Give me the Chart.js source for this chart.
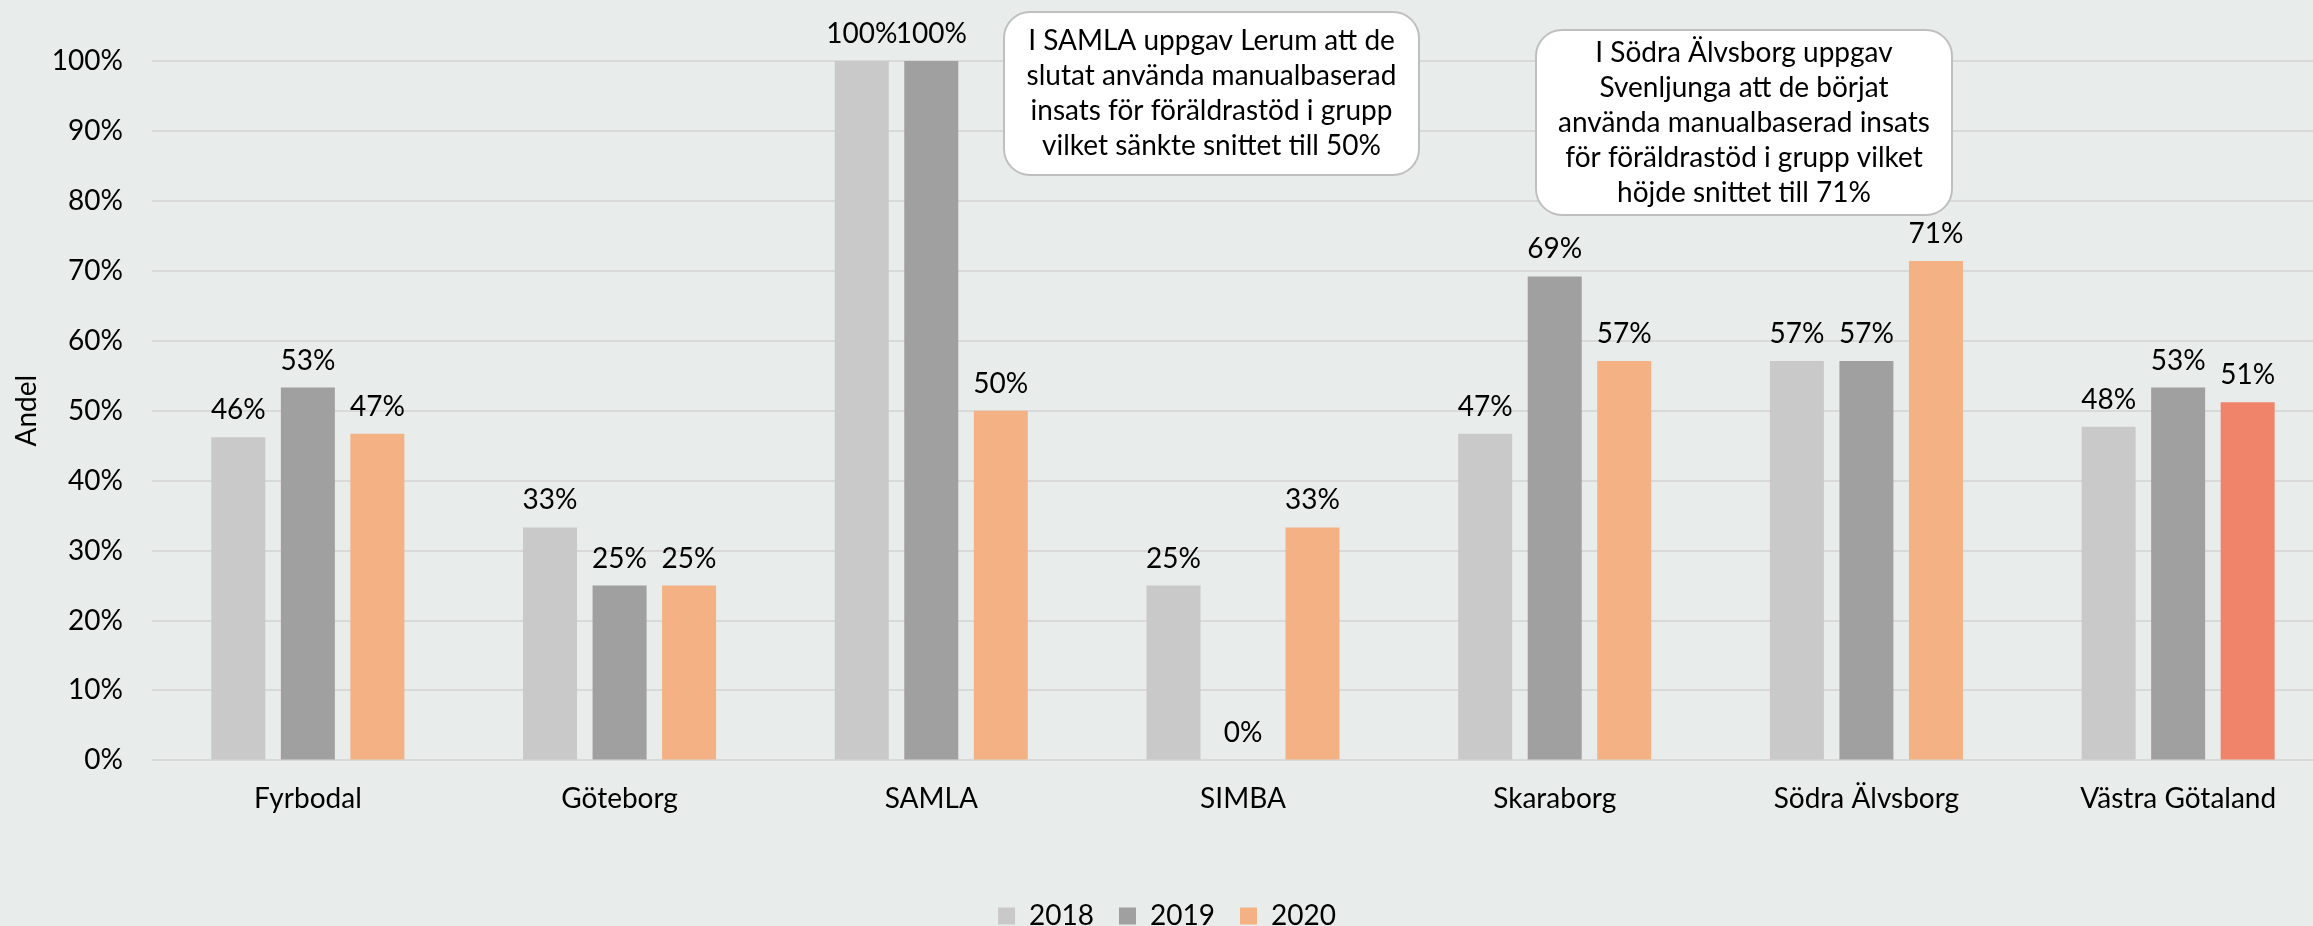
<!DOCTYPE html>
<html>
<head>
<meta charset="utf-8">
<script src="https://cdn.jsdelivr.net/npm/chart.js@4.4.1/dist/chart.umd.min.js"></script>
<style>
  html, body { margin: 0; padding: 0; background: #E8EDEB; overflow: hidden; }
  #wrap { width: 2334px; height: 926px; position: relative; }
</style>
</head>
<body>
<div id="wrap"><canvas id="c"></canvas></div>
<script>
const categories = ['Fyrbodal', 'Göteborg', 'SAMLA', 'SIMBA', 'Skaraborg', 'Södra Älvsborg', 'Västra Götaland'];
const seriesNames = ['2018', '2019', '2020'];
const values2018 = [46.2, 33.3, 100, 25.0, 46.7, 57.1, 47.7];
const values2019 = [53.3, 25.0, 100, 0, 69.2, 57.1, 53.3];
const values2020 = [46.7, 25.0, 50.0, 33.3, 57.1, 71.4, 51.2];
const yTicks = [0, 10, 20, 30, 40, 50, 60, 70, 80, 90, 100];
const highlightCategory = 'Västra Götaland';

const notes = [
  ['I SAMLA uppgav Lerum att de', 'slutat använda manualbaserad', 'insats för föräldrastöd i grupp', 'vilket sänkte snittet till 50%'],
  ['I Södra Älvsborg uppgav', 'Svenljunga att de börjat', 'använda manualbaserad insats', 'för föräldrastöd i grupp vilket', 'höjde snittet till 71%']
];

const FONT = 'Lato, "Open Sans", sans-serif';
const BG = '#E8EDEB';

const bgPlugin = {
  id: 'bg',
  beforeDraw(chart) {
    const ctx = chart.ctx;
    ctx.save();
    ctx.fillStyle = BG;
    ctx.fillRect(0, 0, chart.width, chart.height);
    ctx.restore();
  }
};

const labelPlugin = {
  id: 'barLabels',
  afterDatasetsDraw(chart) {
    const ctx = chart.ctx;
    ctx.save();
    ctx.font = '28px ' + FONT;
    ctx.fillStyle = '#000';
    ctx.textAlign = 'center';
    ctx.textBaseline = 'alphabetic';
    chart.data.datasets.forEach((ds, i) => {
      const meta = chart.getDatasetMeta(i);
      meta.data.forEach((bar, j) => {
        const v = ds.data[j];
        ctx.fillText(Math.round(v) + '%', bar.x, bar.y - 18);
      });
    });
    ctx.restore();
  }
};

function roundRect(ctx, x, y, w, h, r) {
  ctx.beginPath();
  ctx.moveTo(x + r, y);
  ctx.lineTo(x + w - r, y);
  ctx.arcTo(x + w, y, x + w, y + r, r);
  ctx.lineTo(x + w, y + h - r);
  ctx.arcTo(x + w, y + h, x + w - r, y + h, r);
  ctx.lineTo(x + r, y + h);
  ctx.arcTo(x, y + h, x, y + h - r, r);
  ctx.lineTo(x, y + r);
  ctx.arcTo(x, y, x + r, y, r);
  ctx.closePath();
}

const notePlugin = {
  id: 'notes',
  afterDraw(chart) {
    const ctx = chart.ctx;
    const boxes = [
      { x: 1004, y: 12, w: 415, h: 163, lines: notes[0] },
      { x: 1536, y: 30, w: 416, h: 185, lines: notes[1] }
    ];
    ctx.save();
    boxes.forEach(b => {
      roundRect(ctx, b.x, b.y, b.w, b.h, 26);
      ctx.fillStyle = '#FFFFFF';
      ctx.fill();
      ctx.lineWidth = 2;
      ctx.strokeStyle = '#BFBFBF';
      ctx.stroke();
      ctx.fillStyle = '#000';
      ctx.font = '28px ' + FONT;
      ctx.textAlign = 'center';
      ctx.textBaseline = 'middle';
      const lh = 35;
      const startY = b.y + b.h / 2 - (b.lines.length - 1) * lh / 2;
      b.lines.forEach((t, k) => ctx.fillText(t, b.x + b.w / 2, startY + k * lh));
    });
    ctx.restore();
  }
};

new Chart(document.getElementById('c'), {
  type: 'bar',
  data: {
    labels: categories,
    datasets: [
      { label: seriesNames[0], data: values2018, backgroundColor: '#C9C9C9' },
      { label: seriesNames[1], data: values2019, backgroundColor: '#A0A0A0' },
      { label: seriesNames[2], data: values2020,
        backgroundColor: (c) => (c.dataIndex !== undefined && categories[c.dataIndex] === highlightCategory) ? '#F0846A' : '#F4B183' }
    ]
  },
  options: {
    responsive: true,
    maintainAspectRatio: false,
    animation: false,
    categoryPercentage: 0.669,
    barPercentage: 0.777,
    layout: { padding: { top: 61, right: 0, bottom: -14, left: 0 } },
    plugins: {
      legend: {
        position: 'bottom',
        labels: {
          font: { family: FONT, size: 28 },
          color: '#000',
          boxWidth: 17,
          boxHeight: 17,
          padding: 25
        }
      },
      tooltip: { enabled: false }
    },
    scales: {
      x: {
        afterFit(scale) { scale.height = scale.height + 39; },
        grid: { display: false, drawTicks: false },
        border: { display: false },
        ticks: { font: { family: FONT, size: 28 }, color: '#000', padding: 22, maxRotation: 0 }
      },
      y: {
        min: 0,
        max: 100,
        afterFit(scale) { scale.width = 152; },
        afterBuildTicks(scale) { scale.ticks = yTicks.map(v => ({ value: v })); },
        grid: { color: '#D9D9D9', lineWidth: 2, drawTicks: false },
        border: { display: false },
        ticks: { font: { family: FONT, size: 28 }, color: '#000', padding: 29, callback: v => v + '%' },
        title: { display: true, text: 'Andel', font: { family: FONT, size: 28 }, color: '#000', padding: { top: 10, bottom: 0 } }
      }
    }
  },
  plugins: [bgPlugin, labelPlugin, notePlugin]
});
</script>
</body>
</html>
